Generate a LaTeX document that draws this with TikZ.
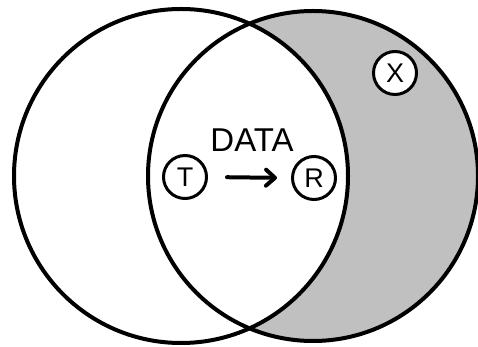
\documentclass[tikz,border=0pt]{standalone}
\usepackage{fontspec}
\setmainfont{Liberation Sans}
\usetikzlibrary{arrows.meta}
\definecolor{coveragegray}{RGB}{192,192,192}
\begin{document}
\begin{tikzpicture}[x=1pt,y=1pt,
  bigcircle/.style={line width=4pt},
  station/.style={circle,draw,line width=3pt,fill=white,minimum size=43pt,inner sep=0pt,
    font=\fontsize{27}{32}\selectfont}]
  \useasboundingbox[fill=white] (0,0) rectangle (478,347);
  % coverage areas
  \fill[coveragegray] (313,171) circle[radius=165];
  \fill[white] (181,171) circle[radius=167];
  \draw[bigcircle] (181,171) circle[radius=167];
  \draw[bigcircle] (313,171) circle[radius=165];
  % stations
  \node[station] (T) at (185,170) {T};
  \node[station] (R) at (314,169) {R};
  \node[station] (X) at (395,274) {X};
  \node[font=\fontsize{33}{40}\selectfont] (data) at (252,207) {DATA};
  \draw[line width=4pt,line cap=round,
        -{Straight Barb[length=9pt,width=16pt,line cap=round,line join=round]},
        shorten <=19pt,shorten >=14pt]
    (T.east) -- (R.west);
\end{tikzpicture}
\end{document}
